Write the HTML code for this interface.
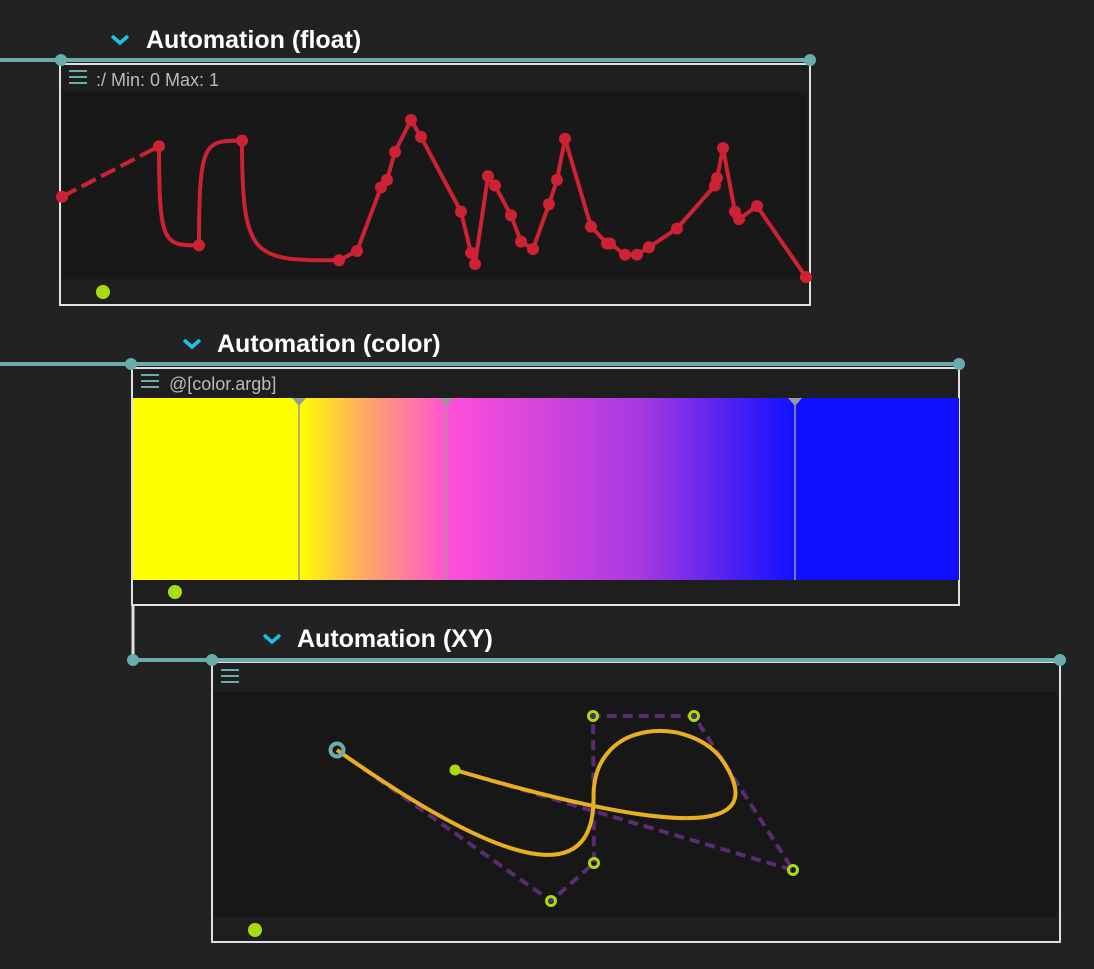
<!DOCTYPE html>
<html><head><meta charset="utf-8">
<style>
html,body{margin:0;padding:0;background:#222222;}
svg{display:block;font-family:"Liberation Sans","DejaVu Sans",sans-serif;}
</style></head>
<body>
<svg id="root" width="1094" height="969" viewBox="0 0 1094 969">
  <rect width="1094" height="969" fill="#222222"/>
  <!-- FLOAT node -->
  <g>
    <path d="M112,36 l8,7 l8,-7" stroke="#1ec0e0" stroke-width="3.5" fill="none"/>
    <text x="146" y="48" fill="#ffffff" font-size="25" font-weight="bold">Automation (float)</text>
    <rect x="60" y="64" width="750" height="241" fill="#1e1e1e" stroke="#e0e0e0" stroke-width="2"/>
    <rect x="62" y="92" width="745" height="187" fill="#181818"/>
    <g stroke="#6aabab" stroke-width="2"><line x1="69" y1="71" x2="87" y2="71"/><line x1="69" y1="77" x2="87" y2="77"/><line x1="69" y1="83" x2="87" y2="83"/></g>
    <text x="96" y="86" fill="#bbbbbb" font-size="18">:/  Min: 0  Max: 1</text>
    <circle cx="103" cy="292" r="7" fill="#a8dc10"/>
    <g id="floatMarks"></g>
    <line x1="0" y1="60" x2="810" y2="60" stroke="#6aabab" stroke-width="4"/>
    <circle cx="61" cy="60" r="6" fill="#6aabab"/>
    <circle cx="810" cy="60" r="6" fill="#6aabab"/>
  </g>
  <!-- COLOR node -->
  <g>
    <defs>
      <linearGradient id="g1" x1="0" x2="1"><stop offset="0" stop-color="#ffff00"/><stop offset="0.5" stop-color="#ffa070"/><stop offset="1" stop-color="#ff55d0"/></linearGradient>
      <linearGradient id="g2" x1="0" x2="1"><stop offset="0" stop-color="#ff50d8"/><stop offset="0.55" stop-color="#a83ae0"/><stop offset="1" stop-color="#1010ff"/></linearGradient>
    </defs>
    <path d="M184,340 l8,7 l8,-7" stroke="#1ec0e0" stroke-width="3.5" fill="none"/>
    <text x="217" y="352" fill="#ffffff" font-size="25" font-weight="bold">Automation (color)</text>
    <rect x="132" y="368" width="827" height="237" fill="#1e1e1e" stroke="#e0e0e0" stroke-width="2"/>
    <g stroke="#6aabab" stroke-width="2"><line x1="141" y1="375" x2="159" y2="375"/><line x1="141" y1="381" x2="159" y2="381"/><line x1="141" y1="387" x2="159" y2="387"/></g>
    <text x="169" y="390" fill="#bbbbbb" font-size="18">@[color.argb]</text>
    <rect x="133" y="398" width="166" height="182" fill="#ffff00"/>
    <rect x="299" y="398" width="147" height="182" fill="url(#g1)"/>
    <rect x="446" y="398" width="349" height="182" fill="url(#g2)"/>
    <rect x="795" y="398" width="164" height="182" fill="#1010ff"/>
    <g><line x1="299" y1="398" x2="299" y2="580" stroke="#999" stroke-width="1.5"/><path d="M292,398 h14 l-7,8z" fill="#999"/></g>
    <g><line x1="446" y1="398" x2="446" y2="580" stroke="#999" stroke-width="1.5"/><path d="M439,398 h14 l-7,8z" fill="#999"/></g>
    <g><line x1="795" y1="398" x2="795" y2="580" stroke="#999" stroke-width="1.5"/><path d="M788,398 h14 l-7,8z" fill="#999"/></g>
    <circle cx="175" cy="592" r="7" fill="#a8dc10"/>
    <line x1="133" y1="605" x2="133" y2="660" stroke="#e0e0e0" stroke-width="3"/>
    <line x1="0" y1="364" x2="959" y2="364" stroke="#6aabab" stroke-width="4"/>
    <circle cx="131" cy="364" r="6" fill="#6aabab"/>
    <circle cx="959" cy="364" r="6" fill="#6aabab"/>
  </g>
  <!-- XY node -->
  <g>
    <path d="M264,635 l8,7 l8,-7" stroke="#1ec0e0" stroke-width="3.5" fill="none"/>
    <text x="297" y="647" fill="#ffffff" font-size="25" font-weight="bold">Automation (XY)</text>
    <rect x="212" y="662" width="848" height="280" fill="#1e1e1e" stroke="#e0e0e0" stroke-width="2"/>
    <rect x="214" y="692" width="843" height="225" fill="#171717"/>
    <g stroke="#6aabab" stroke-width="2"><line x1="221" y1="670" x2="239" y2="670"/><line x1="221" y1="676" x2="239" y2="676"/><line x1="221" y1="682" x2="239" y2="682"/></g>
    <circle cx="255" cy="930" r="7" fill="#a8dc10"/>
    <g id="xyMarks"></g>
    <line x1="133" y1="660" x2="1060" y2="660" stroke="#6aabab" stroke-width="4"/>
    <circle cx="133" cy="660" r="6" fill="#6aabab"/>
    <circle cx="212" cy="660" r="6" fill="#6aabab"/>
    <circle cx="1060" cy="660" r="6" fill="#6aabab"/>
  </g>
</svg>
<script>
// Float automation data
const floatTimes = [0,97,137,180,277,295,319,325,333,349,359,399,409,413,426,433,449,459,471,487,495,503,529,545,548,563,575,587,615,653,655,661,673,677,695,744];
const floatValues = [0.44,0.71,0.18,0.74,0.10,0.15,0.49,0.53,0.68,0.85,0.76,0.36,0.14,0.08,0.55,0.50,0.34,0.20,0.16,0.40,0.53,0.75,0.28,0.19,0.19,0.13,0.13,0.17,0.27,0.50,0.54,0.70,0.36,0.32,0.39,0.01];
const floatSegTypes = ['dash','curve','curve','curve'];
// XY automation data (plot units)
const xyX = [123,337,380,379,480,579,241];
const xyY = [58,-93,-55,92,92,-62,38];

const NS='http://www.w3.org/2000/svg';
function mk(tag, attrs, parent){const e=document.createElementNS(NS,tag);for(const k in attrs)e.setAttribute(k,attrs[k]);parent.appendChild(e);return e;}

// float axes
const fx = t => 62 + t;
const fy = v => 279 - v*187;
const fg = document.getElementById('floatMarks');
for(let i=0;i<floatTimes.length-1;i++){
  const x0=fx(floatTimes[i]), y0=fy(floatValues[i]), x1=fx(floatTimes[i+1]), y1=fy(floatValues[i+1]);
  const type = floatSegTypes[i] || 'line';
  let d;
  if(type==='curve'){const dx=x1-x0;d=`M${x0},${y0} C${x0},${y1} ${x0+dx*0.12},${y1} ${x1},${y1}`;}
  else d=`M${x0},${y0} L${x1},${y1}`;
  const p=mk('path',{d:d,stroke:'#cc2233','stroke-width':4,fill:'none','stroke-linecap':'butt'},fg);
  if(type==='dash')p.setAttribute('stroke-dasharray','16 6');
  
  
}
for(let i=0;i<floatTimes.length;i++){
  const c=mk('circle',{cx:fx(floatTimes[i]),cy:fy(floatValues[i]),r:6,fill:'#cc2233'},fg);
  
  
}

// XY axes
const xx = v => 214 + v;
const xy = v => 808 - v;
const xg = document.getElementById('xyMarks');
const P = xyX.map((v,i)=>[xx(v),xy(xyY[i])]);
const lerp=(a,b,f)=>[a[0]+(b[0]-a[0])*f,a[1]+(b[1]-a[1])*f];
const m1=lerp(P[2],P[3],0.45), m2=lerp(P[4],P[5],0.3);
const curveD=`M${P[0]} C${P[1]} ${P[2]} ${m1} C${P[3]} ${P[4]} ${m2} Q${P[5]} ${P[6]}`;
let poly=mk('polyline',{points:P.map(p=>p.join(',')).join(' '),fill:'none',stroke:'#5a2c6e','stroke-width':4,'stroke-dasharray':'10 6'},xg);


let cv=mk('path',{d:curveD,fill:'none',stroke:'#e8b020','stroke-width':4},xg);


for(let i=1;i<P.length-1;i++){
  const c=mk('circle',{cx:P[i][0],cy:P[i][1],r:4.5,fill:'none',stroke:'#a8dc10','stroke-width':3},xg);
  
  
}
let s=mk('circle',{cx:P[0][0],cy:P[0][1],r:6.5,fill:'none',stroke:'#6aabab','stroke-width':4},xg);


let e=mk('circle',{cx:P[6][0],cy:P[6][1],r:5.5,fill:'#a8dc10'},xg);


</script>
</body></html>
